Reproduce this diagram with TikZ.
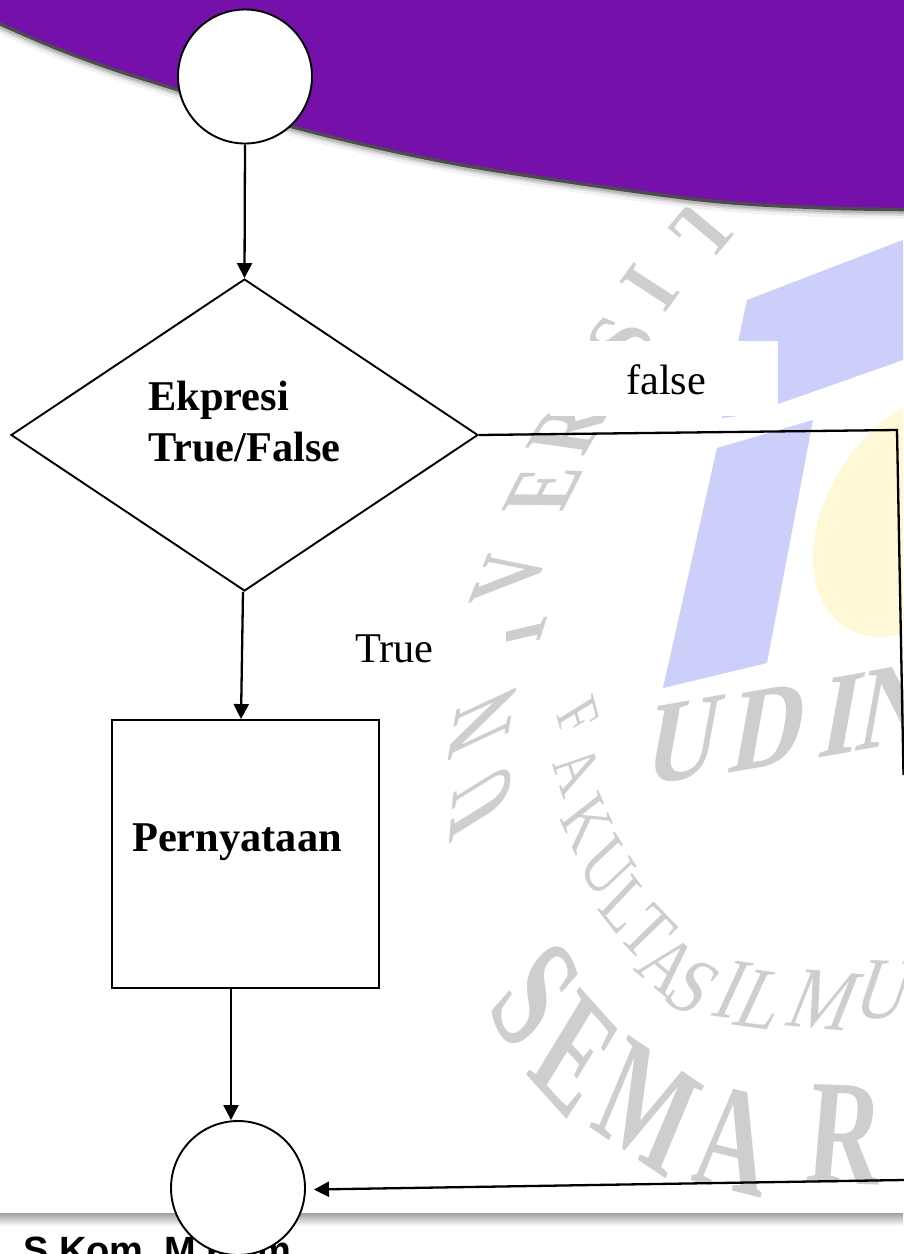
\documentclass[tikz,border=0pt]{standalone}
\usepackage{fontspec}
\setmainfont{Liberation Serif}
\newfontfamily\footfont{Liberation Sans}
\usetikzlibrary{shapes.geometric,arrows.meta,calc}
\definecolor{bandpurple}{HTML}{7510AA}
\definecolor{wmblue}{HTML}{CDCFFB}
\definecolor{wmyellow}{HTML}{FEF8D6}
\definecolor{wmgray}{HTML}{CECECE}
\tikzset{
  flowline/.style={line width=2.3pt,-{Triangle[length=15pt,width=15pt]}},
  plainline/.style={line width=2.3pt},
  outline/.style={draw=black,fill=white,line width=1.9pt,inner sep=0pt},
  lbl/.style={font=\fontsize{42.4}{51}\selectfont,inner sep=0pt,anchor=base west},
  lblb/.style={font=\fontsize{42.4}{51}\selectfont\bfseries,inner sep=0pt,anchor=base west,align=left},
  wmbold/.style={text=wmgray,inner sep=0pt,font=\bfseries},
  wmthin/.style={text=wmgray,inner sep=0pt},
}
\def\edgecoords{(-20,12) (0,22) (58,47) (115,68) (178,88) (300,127) (461,163) (691,197) (820,206) (925,208)}
\begin{document}
\begin{tikzpicture}[x=1pt,y=-1pt]
\useasboundingbox (0,0) rectangle (903,1254);
\fill[white] (0,0) rectangle (903,1254);
% logo shapes
\fill[wmblue] (747,300) -- (903,240) -- (903,360) -- (747,415) -- (722,418) -- cycle;
\fill[wmblue] (717,448) -- (813,420) -- (767,663) -- (663,688) -- cycle;
\fill[wmyellow] (903,407) .. controls (850,440) and (813,500) .. (813,560) .. controls (813,610) and (850,650) .. (903,633) -- cycle;
% watermark: UNIVERSITAS
\foreach \i/\x/\y/\r/\b/\c in {1/481/800/85/-.75/U,2/483/722/80/-.7/N,3/513/636/72/-.6/I,4/510/575/68/-.55/V,5/543/490/63/-.5/E,6/568/430/60/-.4/R,7/620/340/56/-.2/S,8/650/288/54/-.05/I,9/705/228/50/0/T}
  \node[wmbold,rotate=\r,xslant=\b,xscale=.9] (wa\i) at (\x,\y) {\fontsize{84}{84}\selectfont\c};
% watermark: FAKULTAS ILMU
\foreach \i/\x/\y/\r/\b/\s/\c in {1/578/717/-75/-.3/62/F,2/577/770/-72/-.3/66/A,3/587/823/-66/-.25/72/K,4/607/867/-58/-.2/76/U,5/625/905/-52/-.15/76/L,6/648/932/-46/0/78/T,7/668/965/-40/.05/80/A,8/693/987/-30/.15/82/S,9/733/990/-8/.3/88/I,10/763/1000/-8/.3/88/L,11/825/1000/-5/.3/88/M,12/885/990/-2/.3/88/U}
  \node[wmthin,rotate=\r,xslant=\b,xscale=.8] (wb\i) at (\x,\y) {\fontsize{\s}{\s}\selectfont\c};
% watermark: SEMAR
\foreach \i/\x/\y/\r/\b/\c in {1/535/995/-58/-.3/S,2/575/1055/-48/-.3/E,3/648/1107/-34/-.2/M,4/733/1140/-14/-.1/A,5/845/1135/-2/.05/R}
  \node[wmbold,rotate=\r,xslant=\b,xscale=.68] (wc\i) at (\x,\y) {\fontsize{150}{150}\selectfont\c};
% watermark: UDIN
\foreach \i/\x/\y/\c in {1/685/741/U,2/770/727/D,3/842/715/I,4/897/705/N}
  \node[wmbold,rotate=10,xslant=.37,xscale=.88] (wd\i) at (\x,\y) {\fontsize{116}{116}\selectfont\c};
% cover boxes
\fill[white] (550,341) rectangle (778,416);
\fill[white] (340,608) rectangle (506,687);
% purple band with soft shadow
\draw[gray!10,line width=22pt] plot[smooth] coordinates {\edgecoords};
\draw[gray!30,line width=16pt] plot[smooth] coordinates {\edgecoords};
\draw[gray!55,line width=12pt] plot[smooth] coordinates {\edgecoords};
\draw[black!70,line width=7pt] plot[smooth] coordinates {\edgecoords};
\fill[bandpurple] plot[smooth] coordinates {\edgecoords} -- (925,-30) -- (-20,-30) -- cycle;
% bottom band
\shade[top color=gray!75,bottom color=white] (0,1213) rectangle (903,1226);
\node[font=\footfont\bfseries\fontsize{38}{38}\selectfont,inner sep=0pt,anchor=base west] (footer) at (23,1263) {S.Kom, M.Kom};
% flowchart
\node[outline,circle,minimum size=134pt] (start) at (245,76.5) {};
\node[outline,diamond,minimum width=467pt,minimum height=312pt,aspect=1.5] (dec) at (244.5,435) {};
\node[outline,rectangle,minimum width=267pt,minimum height=268pt] (stmt) at (245.5,854) {};
\node[outline,circle,minimum size=134pt] (stop) at (238,1188) {};
\node[lblb] (dectext) at (148,461) {Ekpresi\\True/False};
\node[lblb] (stmttext) at (132,851) {Pernyataan};
\node[lbl] (falselbl) at (626,394) {false};
\node[lbl] (truelbl) at (355,662) {True};
\coordinate (corner) at (897,430);
\coordinate (rightexit) at (903.5,775);
\coordinate (backin) at (904,1180);
\draw[flowline] (start.south) -- (dec.north);
\draw[flowline] ([xshift=-1.5pt]dec.south) -- ([xshift=-4.5pt]stmt.north);
\draw[flowline] ([xshift=-14.5pt]stmt.south) -- ([xshift=-7pt]stop.north);
\draw[plainline] (dec.east) -- (corner) -- (rightexit);
\draw[flowline] (backin) -- ([xshift=8pt,yshift=-1.5pt]stop.east);
\end{tikzpicture}
\end{document}
